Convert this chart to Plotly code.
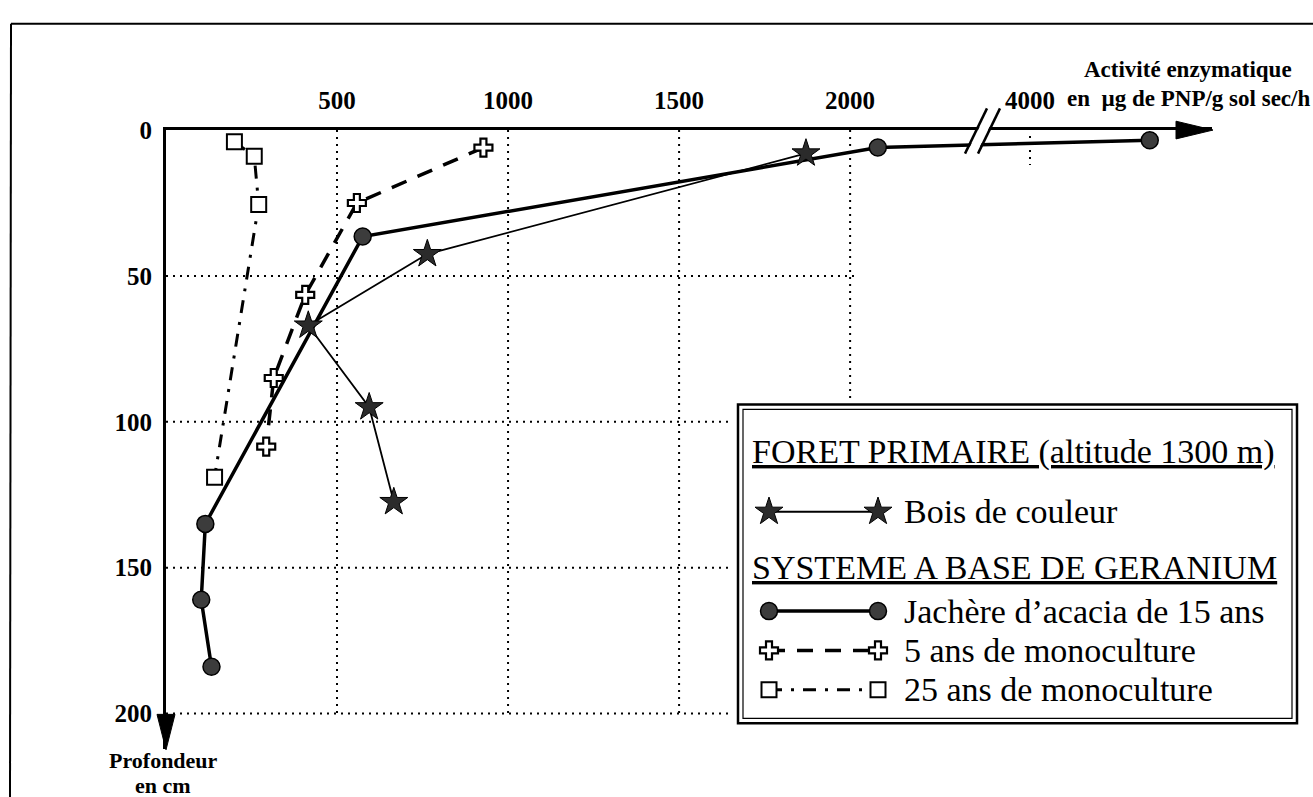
import plotly.graph_objects as go

W, H = 1313, 797
SERIF = "Liberation Serif, Times New Roman, serif"

# ---------------- data ----------------
depth_ticks = [0, 50, 100, 150, 200]
activity_ticks = [500, 1000, 1500, 2000, 4000]
activity_tick_labels = ["500", "1000", "1500", "2000", "4000"]
depth_grid = [50, 100, 150, 200]
activity_grid = [500, 1000, 1500, 2000]

bois_activity = [1871, 764, 416, 594, 666]
bois_depth = [8, 42.5, 67, 95, 127.5]

jachere_activity = [4350, 2081, 575, 115, 103, 133]
jachere_depth = [3.5, 6, 36.5, 135, 161, 184]

mono5_activity = [928, 558, 407, 315, 293]
mono5_depth = [6, 25, 56.5, 85, 108.5]

mono25_activity = [200, 258, 271, 142]
mono25_depth = [4, 9, 25.5, 119]

names = {
    "bois": "Bois de couleur",
    "jach": "Jachère d\u2019acacia de 15 ans",
    "m5": "5 ans de monoculture",
    "m25": "25 ans de monoculture",
}
group_titles = ["FORET PRIMAIRE (altitude 1300 m)", "SYSTEME A BASE DE GERANIUM"]

# ---------------- broken x axis scale ----------------
BREAK_POS = 2380      # axis position of the // break
UPPER_VALUE = 4000    # first value after the break
UPPER_POS = 2526      # axis position of that value


def scale_x(v):
    return v if v <= BREAK_POS else v - (UPPER_VALUE - UPPER_POS)


def sx(vals):
    return [scale_x(v) for v in vals]


X_MAX = 3058
Y_MAX = 212.1
GRID_H_END = 2020

# plot area in page pixels
PX0, PX1, PY0, PY1 = 166, 1212, 119, 748


def px(x):
    return x / W


def py(y):
    return 1 - y / H


bois_style = dict(line=dict(color="black", width=1.8),
                  marker=dict(symbol="star", size=21, color="#2b2b2b",
                              line=dict(color="black", width=1)))
jach_style = dict(line=dict(color="black", width=3.5),
                  marker=dict(symbol="circle", size=17, color="#3c3c3c",
                              line=dict(color="black", width=1.5)))
m5_style = dict(line=dict(color="black", width=3.5, dash="16px,12px"),
                marker=dict(symbol="cross", size=15, color="white",
                            line=dict(color="black", width=2.2)))
m25_style = dict(line=dict(color="black", width=3, dash="13px,9px,3px,9px"),
                 marker=dict(symbol="square", size=15, color="white",
                             line=dict(color="black", width=2)))

fig = go.Figure()
for key, xs, ys, st in [("jach", jachere_activity, jachere_depth, jach_style),
                        ("bois", bois_activity, bois_depth, bois_style),
                        ("m5", mono5_activity, mono5_depth, m5_style),
                        ("m25", mono25_activity, mono25_depth, m25_style)]:
    fig.add_trace(go.Scatter(x=sx(xs), y=ys, mode="lines+markers", name=names[key],
                             showlegend=False, hoverinfo="skip", xaxis="x", yaxis="y", **st))

# ---------------- custom legend (own helper axes in page pixels) ----------------
LEG_X0, LEG_X1, LEG_Y0, LEG_Y1 = 730, 1305, 392, 730
KEY_L, KEY_R = 769, 878
TEXT_TITLE_X, TEXT_ITEM_X = 750, 902
rows = {"t1": 446, "bois": 507, "t2": 564, "jach": 608, "m5": 648, "m25": 688}
for key, st in [("bois", bois_style), ("jach", jach_style), ("m5", m5_style), ("m25", m25_style)]:
    fig.add_trace(go.Scatter(x=[KEY_L, KEY_R], y=[rows[key], rows[key]], mode="lines+markers",
                             showlegend=False, hoverinfo="skip", xaxis="x2", yaxis="y2", **st))

shapes = []
dot = dict(color="black", width=2, dash="2px,5px")
for v in activity_grid:
    shapes.append(dict(type="line", xref="x", yref="y", x0=scale_x(v), x1=scale_x(v),
                       y0=0, y1=200, line=dot, layer="below"))
for d in depth_grid:
    shapes.append(dict(type="line", xref="x", yref="y", x0=0, x1=GRID_H_END,
                       y0=d, y1=d, line=dot, layer="below"))
shapes.append(dict(type="line", xref="x", yref="y", x0=scale_x(4000), x1=scale_x(4000),
                   y0=2, y1=12, line=dot, layer="below"))

# legend double frame
shapes.append(dict(type="rect", xref="x2", yref="y2", x0=738, y0=398, x1=1297, y1=722,
                   line=dict(color="black", width=2.5), fillcolor="white", layer="below"))
shapes.append(dict(type="rect", xref="x2", yref="y2", x0=743, y0=403, x1=1292, y1=717,
                   line=dict(color="black", width=1.2), fillcolor="rgba(0,0,0,0)", layer="below"))

# arrow heads
shapes.append(dict(type="path", xref="paper", yref="paper",
                   path=f"M {px(1213)} {py(PY0)} L {px(1176)} {py(PY0-9)} L {px(1176)} {py(PY0+9)} Z",
                   fillcolor="black", line=dict(color="black", width=1), layer="above"))
shapes.append(dict(type="path", xref="paper", yref="paper",
                   path=f"M {px(PX0)} {py(749)} L {px(PX0-9)} {py(713)} L {px(PX0+9)} {py(713)} Z",
                   fillcolor="black", line=dict(color="black", width=1), layer="above"))
# axis break //
shapes.append(dict(type="path", xref="paper", yref="paper",
                   path=f"M {px(967)} {py(142)} L {px(988)} {py(98)} L {px(998)} {py(98)} L {px(977)} {py(142)} Z",
                   fillcolor="white", line=dict(width=0), layer="above"))
for x_bot in (965, 978):
    shapes.append(dict(type="line", xref="paper", yref="paper",
                       x0=px(x_bot), y0=py(143), x1=px(x_bot + 22), y1=py(97),
                       line=dict(color="black", width=2.5), layer="above"))
# page frame
shapes.append(dict(type="line", xref="paper", yref="paper", x0=px(11), y0=py(11), x1=px(1313), y1=py(11),
                   line=dict(color="black", width=2)))
shapes.append(dict(type="line", xref="paper", yref="paper", x0=px(11), y0=py(11), x1=px(10), y1=py(797),
                   line=dict(color="black", width=2)))

ann = []


def text(x, y, t, size, xanchor="center", bold=False, ref="paper"):
    if ref == "paper":
        xx, yy, xr, yr = px(x), py(y), "paper", "paper"
    else:
        xx, yy, xr, yr = x, y, "x2", "y2"
    ann.append(dict(x=xx, y=yy, xref=xr, yref=yr, text=(f"<b>{t}</b>" if bold else t),
                    showarrow=False, xanchor=xanchor, yanchor="middle",
                    font=dict(family=SERIF, size=size, color="black")))


text(1188, 57, "Activité enzymatique", 23, bold=True)
text(1188, 87, "en \u00a0µg de PNP/g sol sec/h", 23, bold=True)
text(163, 760, "Profondeur", 22, bold=True)
text(163, 785, "en cm", 22, bold=True)

text(TEXT_TITLE_X, rows["t1"], f"<u>{group_titles[0]}</u>", 34, xanchor="left", ref="x2")
text(TEXT_ITEM_X, rows["bois"], names["bois"], 34, xanchor="left", ref="x2")
text(TEXT_TITLE_X, rows["t2"], f"<u>{group_titles[1]}</u>", 34, xanchor="left", ref="x2")
text(TEXT_ITEM_X, rows["jach"], names["jach"], 34, xanchor="left", ref="x2")
text(TEXT_ITEM_X, rows["m5"], names["m5"], 34, xanchor="left", ref="x2")
text(TEXT_ITEM_X, rows["m25"], names["m25"], 34, xanchor="left", ref="x2")

tickfont = dict(family=SERIF, size=25, color="black", weight="bold")

fig.update_layout(
    width=W, height=H, margin=dict(l=0, r=0, t=0, b=0),
    paper_bgcolor="white", plot_bgcolor="white",
    showlegend=False,
    xaxis=dict(domain=[px(PX0), px(PX1)], range=[0, X_MAX], side="top", anchor="y",
               tickvals=sx(activity_ticks), ticktext=activity_tick_labels,
               showgrid=False, zeroline=False, showline=True, linecolor="black", linewidth=3,
               ticks="", tickfont=tickfont, ticklabelstandoff=8),
    yaxis=dict(domain=[py(PY1), py(PY0)], range=[Y_MAX, 0], anchor="x",
               tickvals=depth_ticks, showgrid=False, zeroline=False, showline=True,
               linecolor="black", linewidth=3, ticks="", tickfont=tickfont, ticklabelstandoff=6),
    xaxis2=dict(domain=[px(LEG_X0), px(LEG_X1)], range=[LEG_X0, LEG_X1], anchor="y2", visible=False),
    yaxis2=dict(domain=[py(LEG_Y1), py(LEG_Y0)], range=[LEG_Y1, LEG_Y0], anchor="x2", visible=False),
    shapes=shapes, annotations=ann,
)

fig.write_html(
    "out.html", config={"displayModeBar": False},
    post_script=("document.documentElement.style.margin='0px';"
                 "document.body.style.margin='0px';document.body.style.padding='0px';"
                 "document.documentElement.style.overflow='hidden';"
                 "document.body.style.overflow='hidden';"),
)
